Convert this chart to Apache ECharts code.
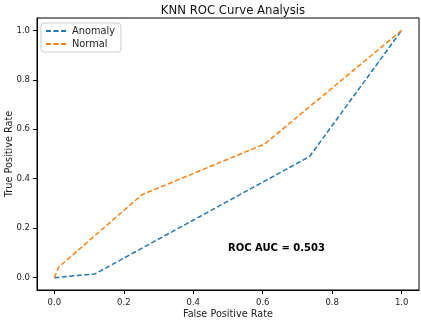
<!DOCTYPE html>
<html>
<head>
<meta charset="utf-8">
<script src="https://cdn.jsdelivr.net/npm/echarts@6/dist/echarts.min.js"></script>
<style>
  html, body { margin: 0; padding: 0; background: #fff; }
  #main { width: 421px; height: 321px; }
</style>
</head>
<body>
<div id="main"></div>
<script>
// ROC curve points: [fpr, tpr]
var anomalyFpr = [0.0, 0.117, 0.735, 1.0];
var anomalyTpr = [0.0, 0.015, 0.49, 1.0];
var normalFpr = [0.0, 0.012, 0.252, 0.606, 1.0];
var normalTpr = [0.0, 0.042, 0.335, 0.541, 1.0];
var tickValues = [0, 0.2, 0.4, 0.6, 0.8, 1.0];
var aucText = 'ROC AUC = 0.503';

function pairs(xs, ys) {
    var out = [];
    for (var i = 0; i < xs.length; i++) out.push([xs[i], ys[i]]);
    return out;
}

var font = 'DejaVu Sans';
var axisCommon = {
    type: 'value',
    min: -0.05,
    max: 1.05,
    splitLine: { show: false },
    axisLine: { show: true, onZero: false, lineStyle: { color: '#000', width: 1 } },
    axisTick: { show: true, length: 4, customValues: tickValues, lineStyle: { color: '#000' } },
    axisLabel: {
        customValues: tickValues,
        margin: 7,
        color: '#222', fontFamily: font, fontSize: 8.5,
        formatter: function (v) { return v.toFixed(1); }
    },
    nameLocation: 'middle',
    nameMoveOverlap: false,
    nameTextStyle: { color: '#222', fontFamily: font, fontSize: 9.7 }
};

var myChart = echarts.init(document.getElementById('main'));
myChart.setOption({
    animation: false,
    title: {
        text: 'KNN ROC Curve Analysis',
        left: 228, top: 0, textAlign: 'center',
        textStyle: { fontFamily: font, fontSize: 11.7, fontWeight: 'normal', color: '#111' }
    },
    grid: {
        left: 37, right: 2, top: 18, bottom: 31,
        outerBoundsMode: 'none', containLabel: false,
        show: true, borderColor: '#000', borderWidth: 1
    },
    legend: {
        left: 41, top: 23, orient: 'vertical',
        itemWidth: 21, itemHeight: 10, itemGap: 3,
        padding: [3, 6, 3, 4],
        backgroundColor: '#fff', borderColor: '#ccc', borderWidth: 1, borderRadius: 3,
        itemStyle: { opacity: 0 },
        textStyle: { fontFamily: font, fontSize: 9.8, color: '#222' },
        data: ['Anomaly', 'Normal']
    },
    xAxis: Object.assign({}, axisCommon, {
        name: 'False Positive Rate', nameGap: 19,
        axisLabel: Object.assign({}, axisCommon.axisLabel, { margin: 8 })
    }),
    yAxis: Object.assign({}, axisCommon, { name: 'True Positive Rate', nameGap: 23 }),
    series: [{
        name: 'Anomaly', type: 'line', symbol: 'none',
        data: pairs(anomalyFpr, anomalyTpr),
        itemStyle: { color: '#1f77b4' },
        lineStyle: { color: '#1f77b4', width: 1.5, type: [5, 2.5] }
    }, {
        name: 'Normal', type: 'line', symbol: 'none',
        data: pairs(normalFpr, normalTpr),
        itemStyle: { color: '#ff7f0e' },
        lineStyle: { color: '#ff7f0e', width: 1.5, type: [5, 2.5] }
    }]
});

// annotation anchored at data coords (0.5, 0.1), left aligned, baseline
var pos = myChart.convertToPixel({ gridIndex: 0 }, [0.5, 0.1]);
myChart.setOption({
    graphic: [{
        type: 'text', x: pos[0], y: pos[1],
        style: {
            text: aucText, fontFamily: font, fontSize: 10, fontWeight: 'bold',
            fill: '#000', textAlign: 'left', textVerticalAlign: 'bottom'
        }
    }]
});
</script>
</body>
</html>
